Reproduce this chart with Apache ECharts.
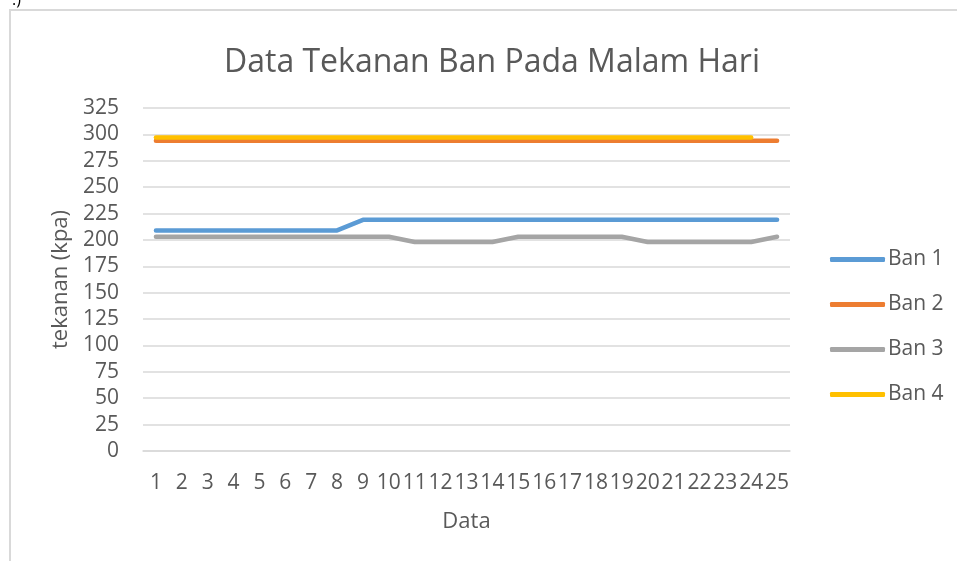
<!DOCTYPE html>
<html><head><meta charset="utf-8">
<script src="https://cdn.jsdelivr.net/npm/echarts@6/dist/echarts.min.js"></script>
<style>html,body{margin:0;padding:0;background:#fff}#c{width:957px;height:561px}</style>
</head><body><div id="c"></div>
<script>
const categories = ['1','2','3','4','5','6','7','8','9','10','11','12','13','14','15','16','17','18','19','20','21','22','23','24','25'];
const ban1 = [209,209,209,209,209,209,209,209,219,219,219,219,219,219,219,219,219,219,219,219,219,219,219,219,219];
const ban2 = [294,294,294,294,294,294,294,294,294,294,294,294,294,294,294,294,294,294,294,294,294,294,294,294,294];
const ban3 = [203,203,203,203,203,203,203,203,203,203,198,198,198,198,203,203,203,203,203,198,198,198,198,198,203];
const ban4 = [297,297,297,297,297,297,297,297,297,297,297,297,297,297,297,297,297,297,297,297,297,297,297,297,null];
const yTicks = {min:0, max:325, interval:25};

const FONT = '"Open Sans", "Noto Sans", sans-serif';
const TXT = '#595959';
const chart = echarts.init(document.getElementById('c'));
function mk(name, data, color){
  return {name, type:'line', data, symbol:'none', smooth:false,
    lineStyle:{width:4.5, color, cap:'round', join:'round'}, itemStyle:{color}, z: 3};
}
chart.setOption({
  animation:false,
  backgroundColor:'#fff',
  title:{text:'Data Tekanan Ban Pada Malam Hari', left:487, top:42, textAlign:'center',
    textStyle:{fontFamily:FONT, fontSize:32, fontWeight:'normal', color:TXT}},
  grid:{left:143, right:167, top:108, bottom:110},
  legend:{orient:'vertical', left:830, top:249, padding:0, itemWidth:55, itemHeight:5, itemGap:24,
    icon:'roundRect', textStyle:{fontFamily:FONT, fontSize:21, color:TXT, padding:[0,0,0,-2]},
    data:['Ban 1','Ban 2','Ban 3','Ban 4']},
  xAxis:{type:'category', data:categories, boundaryGap:true,
    name:'Data', nameLocation:'middle', nameGap:60,
    nameTextStyle:{fontFamily:FONT, fontSize:22, color:TXT},
    axisLine:{lineStyle:{color:'#d9d9d9', width:1.5}}, axisTick:{show:false},
    axisLabel:{interval:0, margin:22, fontFamily:FONT, fontSize:21, color:TXT}},
  yAxis:{type:'value', min:yTicks.min, max:yTicks.max, interval:yTicks.interval,
    name:'tekanan (kpa)', nameLocation:'middle', nameGap:71, nameRotate:90,
    nameTextStyle:{fontFamily:FONT, fontSize:22, color:TXT},
    axisLine:{show:false}, axisTick:{show:false},
    splitLine:{lineStyle:{color:'#d9d9d9', width:1.5}},
    axisLabel:{margin:24, fontFamily:FONT, fontSize:21, color:TXT}},
  series:[mk('Ban 1',ban1,'#5B9BD5'), mk('Ban 2',ban2,'#ED7D31'), mk('Ban 3',ban3,'#A5A5A5'), mk('Ban 4',ban4,'#FFC000')],
  graphic:[
    {type:'rect', shape:{x:10,y:10,width:960,height:560}, style:{fill:null, stroke:'#d9d9d9', lineWidth:2}, silent:true, z:-1},
    {type:'text', left:12, top:-8, style:{text:'.)', fontSize:16, fill:'#000', fontFamily:FONT}}
  ]
});
</script></body></html>
